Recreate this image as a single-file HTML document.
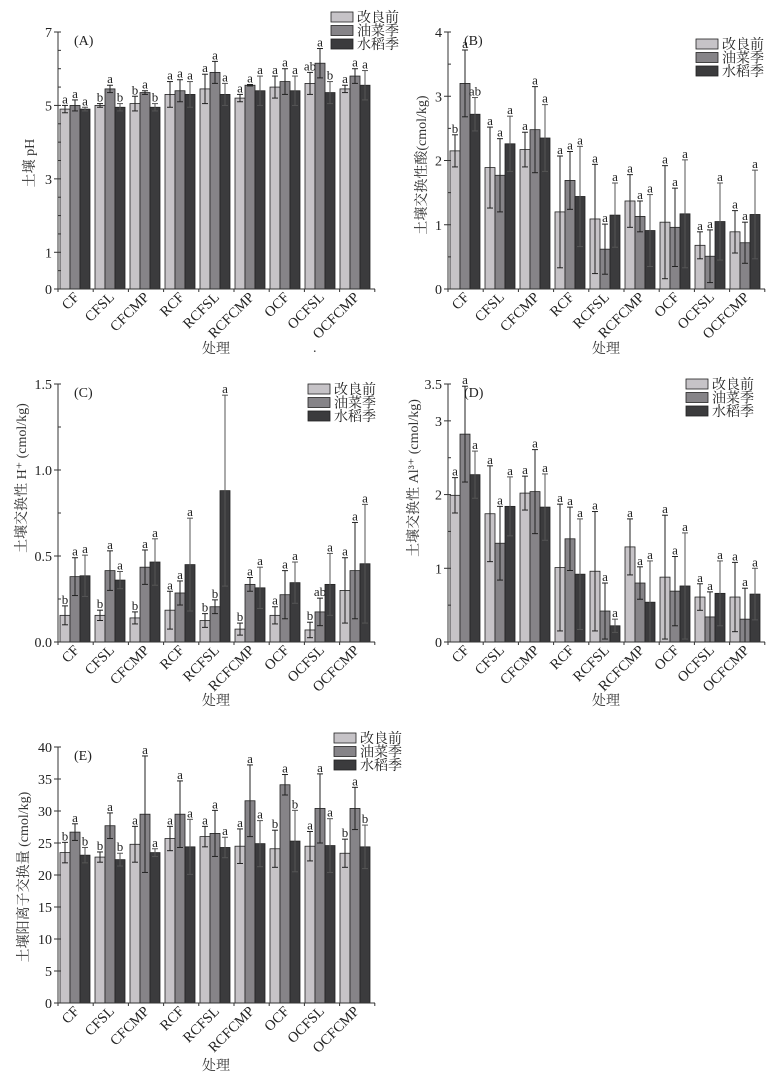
<!DOCTYPE html>
<html><head><meta charset="utf-8">
<style>
html,body{margin:0;padding:0;background:#fff;}
svg{display:block;font-family:"Liberation Serif","Noto Serif CJK SC","Noto Sans CJK SC",serif;}
</style></head>
<body>
<svg id="fig" width="779" height="1081" viewBox="0 0 779 1081" xmlns="http://www.w3.org/2000/svg"></svg>
<script>
const categories = ["CF","CFSL","CFCMP","RCF","RCFSL","RCFCMP","OCF","OCFSL","OCFCMP"];
const seriesNames = ["改良前","油菜季","水稻季"];

const phBefore = [4.9,5.0,5.05,5.3,5.45,5.2,5.5,5.6,5.45];
const phRape   = [5.0,5.45,5.35,5.4,5.9,5.55,5.65,6.15,5.8];
const phRice   = [4.9,4.95,4.95,5.3,5.3,5.4,5.4,5.35,5.55];
const phErrB = [0.1,0.05,0.2,0.35,0.4,0.1,0.3,0.3,0.1];
const phErrR = [0.15,0.1,0.05,0.3,0.3,0.02,0.35,0.4,0.2];
const phErrW = [0.05,0.1,0.1,0.35,0.3,0.4,0.4,0.3,0.4];
const phLetters = [["a","a","a"],["b","a","b"],["b","a","b"],["a","a","a"],["a","a","a"],["a","a","a"],["a","a","a"],["ab","a","b"],["a","a","a"]];

const acBefore = [2.15,1.89,2.17,1.2,1.09,1.37,1.04,0.68,0.89];
const acRape   = [3.2,1.77,2.48,1.69,0.62,1.13,0.96,0.51,0.72];
const acRice   = [2.72,2.26,2.35,1.44,1.15,0.91,1.17,1.05,1.16];
const acErrB = [0.25,0.63,0.27,0.87,0.85,0.41,0.88,0.21,0.33];
const acErrR = [0.52,0.57,0.67,0.45,0.39,0.24,0.61,0.41,0.32];
const acErrW = [0.26,0.43,0.52,0.78,0.5,0.56,0.84,0.6,0.69];
const acLetters = [["b","a","ab"],["a","a","a"],["a","a","a"],["a","a","a"],["a","a","a"],["a","a","a"],["a","a","a"],["a","a","a"],["a","a","a"]];

const hBefore = [0.155,0.155,0.14,0.185,0.125,0.075,0.155,0.07,0.3];
const hRape   = [0.38,0.415,0.435,0.285,0.205,0.335,0.275,0.175,0.415];
const hRice   = [0.385,0.36,0.465,0.45,0.88,0.315,0.345,0.335,0.455];
const hErrB = [0.055,0.03,0.035,0.11,0.04,0.035,0.05,0.045,0.19];
const hErrR = [0.11,0.115,0.1,0.07,0.04,0.04,0.14,0.08,0.28];
const hErrW = [0.12,0.05,0.135,0.27,0.555,0.12,0.12,0.18,0.345];
const hLetters = [["b","a","a"],["b","a","a"],["b","a","a"],["a","a","a"],["b","b","a"],["b","a","a"],["a","a","a"],["b","ab","a"],["a","a","a"]];

const alBefore = [1.99,1.74,2.02,1.01,0.96,1.29,0.88,0.61,0.61];
const alRape   = [2.82,1.34,2.04,1.4,0.42,0.8,0.69,0.34,0.31];
const alRice   = [2.27,1.84,1.83,0.92,0.22,0.54,0.76,0.66,0.65];
const alErrB = [0.24,0.65,0.23,0.86,0.81,0.38,0.84,0.18,0.47];
const alErrR = [0.65,0.5,0.57,0.43,0.38,0.22,0.47,0.34,0.42];
const alErrW = [0.32,0.4,0.45,0.75,0.09,0.56,0.72,0.44,0.35];
const alLetters = [["a","a","a"],["a","a","a"],["a","a","a"],["a","a","a"],["a","a","a"],["a","a","a"],["a","a","a"],["a","a","a"],["a","a","a"]];

const cecBefore = [23.5,22.8,24.8,25.7,26.0,24.5,24.1,24.5,23.4];
const cecRape   = [26.7,27.7,29.5,29.5,26.5,31.6,34.1,30.4,30.4];
const cecRice   = [23.1,22.4,23.5,24.4,24.3,24.9,25.3,24.6,24.4];
const cecErrB = [1.6,0.8,2.8,1.9,1.6,2.7,2.9,2.3,2.2];
const cecErrR = [1.3,2.0,9.1,5.2,3.6,5.6,1.6,5.4,3.3];
const cecErrW = [1.2,1.0,0.6,4.3,1.6,3.6,4.8,4.2,3.4];
const cecLetters = [["b","a","b"],["b","a","b"],["a","a","a"],["a","a","a"],["a","a","a"],["a","a","a"],["b","a","b"],["a","a","a"],["b","a","b"]];

const phTicks = [0,1,3,5,7];
const acTicks = [0,1,2,3,4];
const hTicks = [0,0.5,1.0,1.5];
const hTickLabels = ["0.0","0.5","1.0","1.5"];
const alTicks = [0,1,2,3,3.5];
const cecTicks = [0,5,10,15,20,25,30,35,40];

const NS="http://www.w3.org/2000/svg";
const svg=document.getElementById('fig');
const colors=["#c6c3c7","#868488","#3b3b3d"];
function mk(tag,attrs,parent){const e=document.createElementNS(NS,tag);for(const k in attrs)e.setAttribute(k,attrs[k]);(parent||svg).appendChild(e);return e;}

function panel(p){
  const g=mk('g',{});
  
  
  const yS=v=>p.yb-(v/p.max)*(p.yb-p.yt);
  const cx=i=>p.x0+17+i*35;
  const vals=[p.b,p.r,p.w], errs=[p.eb,p.er,p.ew];
  categories.forEach((c,i)=>{
    for(let s=0;s<3;s++){
      const bx=cx(i)-15+s*10, v=vals[s][i], e=errs[s][i];
      const r=mk('rect',{x:bx,y:yS(v),width:10,height:p.yb-yS(v),fill:colors[s],stroke:'#222','stroke-width':0.8},g);
      
      
      const mx=bx+5, top=yS(v+e), bot=yS(Math.max(0,v-e));
      const eg=mk('g',{stroke:s==2?'#555':'#222','stroke-width':1},g);
      
      
      mk('line',{x1:mx,y1:top,x2:mx,y2:bot},eg);
      mk('line',{x1:mx-3,y1:top,x2:mx+3,y2:top},eg);
      mk('line',{x1:mx-3,y1:bot,x2:mx+3,y2:bot},eg);
      const t=mk('text',{x:mx,y:top-2,'text-anchor':'middle','font-size':13,fill:'#222'},g);
      t.textContent=p.letters[i][s];
      
      
    }
    const xl=mk('text',{transform:`translate(${cx(i)+5},${p.yb+9}) rotate(-45)`,'text-anchor':'end','font-size':14.5,fill:'#222'},g);
    xl.textContent=c;
    
    
  });
  const ax=mk('g',{stroke:'#333','stroke-width':1},g);
  
  
  mk('line',{x1:p.x0,y1:p.yt,x2:p.x0,y2:p.yb},ax);
  mk('line',{x1:p.x0,y1:p.yb,x2:p.x0+317,y2:p.yb},ax);
  for(let v=0;v<=p.max+1e-9;v+=p.minor){mk('line',{x1:p.x0,y1:yS(v),x2:p.x0+3,y2:yS(v)},ax);}
  p.ticks.forEach((v,k)=>{
    mk('line',{x1:p.x0-4,y1:yS(v),x2:p.x0,y2:yS(v)},ax);
    const t=mk('text',{x:p.x0-6,y:yS(v)+5,'text-anchor':'end','font-size':14,fill:'#222'},g);
    t.textContent=p.tl?p.tl[k]:String(v);
    
    
  });
  for(let i=0;i<=9;i++){const x=p.x0+i*35.2;mk('line',{x1:x,y1:p.yb,x2:x,y2:p.yb+3},ax);}
  const pl=mk('text',{x:p.x0+16,y:p.yt+13,'font-size':14,fill:'#222'},g);
  pl.textContent='('+p.id+')';
  
  
  const yt=mk('text',{transform:`translate(${p.ytx},${p.yty}) rotate(-90)`,'text-anchor':'middle','font-size':14,fill:'#333'},g);
  yt.textContent=p.ytitle;
  
  
  const xt=mk('text',{x:p.x0+158,y:p.xty,'text-anchor':'middle','font-size':14,fill:'#333'},g);
  xt.textContent='处理';
  
  
  const lg=mk('g',{},g);
  
  
  seriesNames.forEach((n,s)=>{
    const ey=p.ly+s*13.5;
    const le=mk('g',{},lg);
    
    
    mk('rect',{x:p.lx,y:ey,width:22,height:10,fill:colors[s],stroke:'#222','stroke-width':0.8},le);
    const t=mk('text',{x:p.lx+26,y:ey+10,'font-size':14,fill:'#222'},le);
    t.textContent=n;
  });
}

panel({id:'A',x0:58,yt:32,yb:289,max:7,minor:0.5,ticks:phTicks,b:phBefore,r:phRape,w:phRice,eb:phErrB,er:phErrR,ew:phErrW,letters:phLetters,ytitle:'土壤 pH',ytx:34,yty:163,xty:353,lx:331,ly:12});
panel({id:'B',x0:448,yt:32,yb:289,max:4,minor:0.5,ticks:acTicks,b:acBefore,r:acRape,w:acRice,eb:acErrB,er:acErrR,ew:acErrW,letters:acLetters,ytitle:'土壤交换性酸(cmol/kg)',ytx:426,yty:165,xty:353,lx:696,ly:39});
panel({id:'C',x0:58,yt:384,yb:642,max:1.5,minor:0.25,ticks:hTicks,tl:hTickLabels,b:hBefore,r:hRape,w:hRice,eb:hErrB,er:hErrR,ew:hErrW,letters:hLetters,ytitle:'土壤交换性 H⁺ (cmol/kg)',ytx:26,yty:478,xty:705,lx:308,ly:384});
panel({id:'D',x0:448,yt:384,yb:642,max:3.5,minor:0.5,ticks:alTicks,b:alBefore,r:alRape,w:alRice,eb:alErrB,er:alErrR,ew:alErrW,letters:alLetters,ytitle:'土壤交换性 Al³⁺ (cmol/kg)',ytx:418,yty:478,xty:705,lx:686,ly:379});
panel({id:'E',x0:58,yt:747,yb:1003,max:40,minor:5,ticks:cecTicks,b:cecBefore,r:cecRape,w:cecRice,eb:cecErrB,er:cecErrR,ew:cecErrW,letters:cecLetters,ytitle:'土壤阳离子交换量 (cmol/kg)',ytx:28,yty:877,xty:1070,lx:334,ly:733});
const dot=mk('text',{x:313,y:352,'font-size':14,fill:'#333'});
dot.textContent='.';


</script>
</body></html>
